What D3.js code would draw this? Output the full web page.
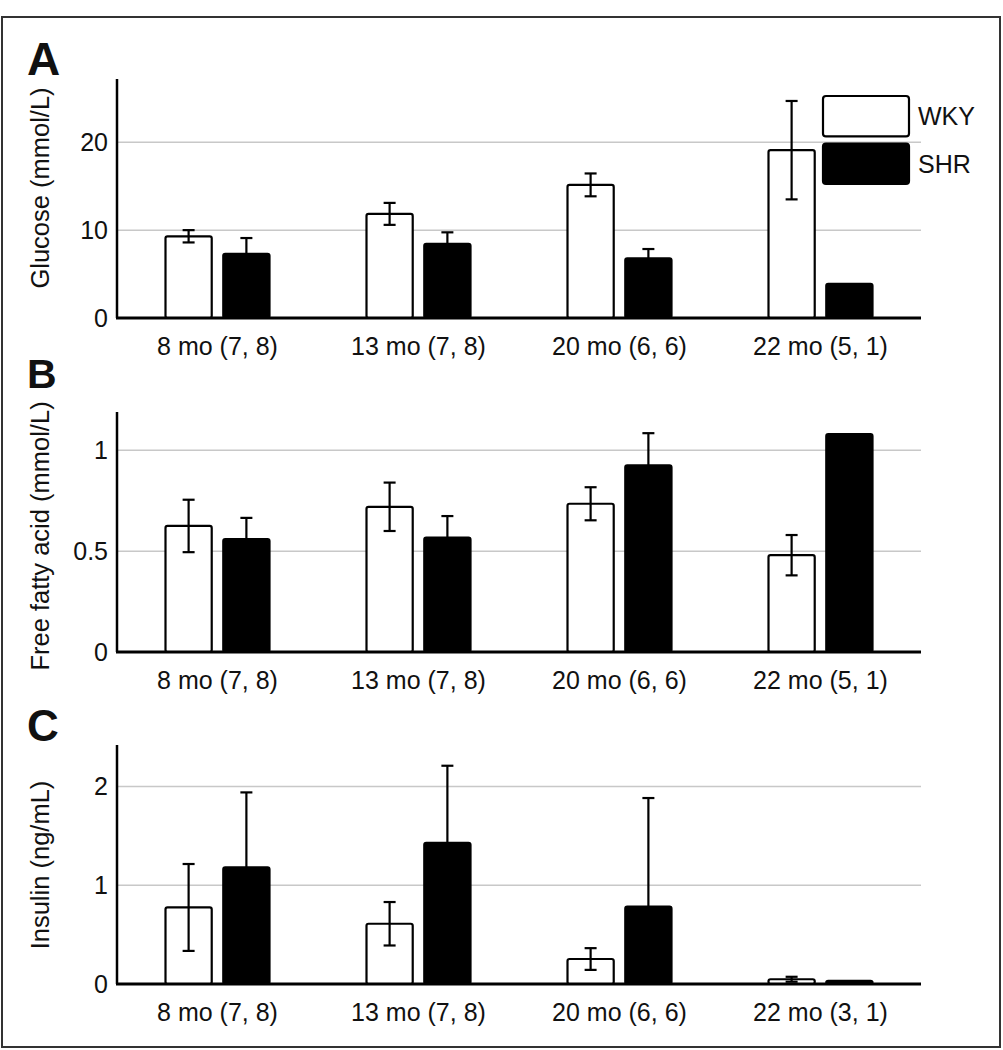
<!DOCTYPE html>
<html>
<head>
<meta charset="utf-8">
<script src="https://cdn.jsdelivr.net/npm/d3@7"></script>
<style>
  html, body { margin: 0; padding: 0; background: #fff; }
  svg text { font-family: "Liberation Sans", Arial, sans-serif; fill: #111; }
</style>
</head>
<body>
<svg id="chart" width="1003" height="1050"></svg>
<script>
// ---- Data ----
const series = ["WKY", "SHR"];
const categoriesAB = ["8 mo (7, 8)", "13 mo (7, 8)", "20 mo (6, 6)", "22 mo (5, 1)"];
const categoriesC  = ["8 mo (7, 8)", "13 mo (7, 8)", "20 mo (6, 6)", "22 mo (3, 1)"];

const glucoseWKY    = [9.3, 11.85, 15.15, 19.1];
const glucoseWKYErr = [0.7, 1.25, 1.3, 5.6];
const glucoseSHR    = [7.3, 8.45, 6.8, 3.9];
const glucoseSHRErr = [1.8, 1.3, 1.05, null];
const glucoseTicks  = [0, 10, 20];

const ffaWKY    = [0.625, 0.72, 0.735, 0.48];
const ffaWKYErr = [0.13, 0.12, 0.082, 0.1];
const ffaSHR    = [0.56, 0.567, 0.925, 1.08];
const ffaSHRErr = [0.105, 0.107, 0.16, null];
const ffaTicks  = [0, 0.5, 1];

const insulinWKY    = [0.775, 0.61, 0.253, 0.048];
const insulinWKYErr = [0.44, 0.22, 0.11, 0.025];
const insulinSHR    = [1.18, 1.43, 0.783, 0.033];
const insulinSHRErr = [0.76, 0.78, 1.10, null];
const insulinTicks  = [0, 1, 2];

const panels = [
  { letter: "A", letterSize: 46, letterY: 75, title: "Glucose (mmol/L)", titleY: 188,
    cats: categoriesAB, wky: glucoseWKY, wkyErr: glucoseWKYErr, shr: glucoseSHR, shrErr: glucoseSHRErr,
    ticks: glucoseTicks, max: 27.2, top: 79, bottom: 318, legend: true },
  { letter: "B", letterSize: 41, letterY: 388, title: "Free fatty acid (mmol/L)", titleY: 536,
    cats: categoriesAB, wky: ffaWKY, wkyErr: ffaWKYErr, shr: ffaSHR, shrErr: ffaSHRErr,
    ticks: ffaTicks, max: 1.19, top: 412, bottom: 652, legend: false },
  { letter: "C", letterSize: 44, letterY: 741, title: "Insulin (ng/mL)", titleY: 865,
    cats: categoriesC, wky: insulinWKY, wkyErr: insulinWKYErr, shr: insulinSHR, shrErr: insulinSHRErr,
    ticks: insulinTicks, max: 2.42, top: 745, bottom: 984, legend: false }
];

const svg = d3.select("#chart");
const colors = { WKY: "#ffffff", SHR: "#000000" };
const left = 117, right = 921;

// outer frame
svg.append("rect").attr("x", 2).attr("y", 17).attr("width", 998).attr("height", 1030)
  .attr("fill", "none").attr("stroke", "#333").attr("stroke-width", 2);

panels.forEach(p => {
  const g = svg.append("g");
  const x0 = d3.scaleBand().domain(p.cats).range([left, right]).paddingInner(0).paddingOuter(0);
  const x1 = d3.scaleBand().domain(series).range([48.5, 152.5]).paddingInner(0.2).paddingOuter(0);
  const y = d3.scaleLinear().domain([0, p.max]).range([p.bottom, p.top]);

  // gridlines
  g.append("g").selectAll("line").data(p.ticks.filter(t => t > 0)).join("line")
    .attr("x1", left).attr("x2", right)
    .attr("y1", d => y(d)).attr("y2", d => y(d))
    .attr("stroke", "#c8c8c8").attr("stroke-width", 1.5);

  // y axis tick labels
  const ax = g.append("g").attr("transform", `translate(${left},0)`)
    .call(d3.axisLeft(y).tickValues(p.ticks).tickSize(0).tickPadding(9).tickFormat(d3.format("~g")));
  ax.select(".domain").remove();
  ax.selectAll("text").attr("font-size", 25).attr("fill", "#111")
    .attr("font-family", "Liberation Sans, Arial, sans-serif");

  // data rows
  const rows = p.cats.map((c, i) => ({
    cat: c,
    vals: [
      { s: "WKY", v: p.wky[i], e: p.wkyErr[i] },
      { s: "SHR", v: p.shr[i], e: p.shrErr[i] }
    ]
  }));

  const grp = g.append("g").selectAll("g").data(rows).join("g")
    .attr("transform", d => `translate(${x0(d.cat)},0)`);

  grp.selectAll("rect").data(d => d.vals).join("rect")
    .attr("x", d => x1(d.s))
    .attr("width", x1.bandwidth())
    .attr("y", d => y(d.v))
    .attr("height", d => y(0) - y(d.v))
    .attr("rx", 2)
    .attr("fill", d => colors[d.s])
    .attr("stroke", "#000").attr("stroke-width", 2.2);

  // error bars
  const eb = grp.selectAll("g.err").data(d => d.vals.filter(v => v.e != null)).join("g").attr("class", "err");
  eb.append("line")
    .attr("x1", d => x1(d.s) + x1.bandwidth() / 2).attr("x2", d => x1(d.s) + x1.bandwidth() / 2)
    .attr("y1", d => y(d.s === "WKY" ? d.v - d.e : d.v)).attr("y2", d => y(d.v + d.e))
    .attr("stroke", "#000").attr("stroke-width", 2.2);
  eb.append("line")
    .attr("x1", d => x1(d.s) + x1.bandwidth() / 2 - 6).attr("x2", d => x1(d.s) + x1.bandwidth() / 2 + 6)
    .attr("y1", d => y(d.v + d.e)).attr("y2", d => y(d.v + d.e))
    .attr("stroke", "#000").attr("stroke-width", 2.2);
  eb.filter(d => d.s === "WKY").append("line")
    .attr("x1", d => x1(d.s) + x1.bandwidth() / 2 - 6).attr("x2", d => x1(d.s) + x1.bandwidth() / 2 + 6)
    .attr("y1", d => y(d.v - d.e)).attr("y2", d => y(d.v - d.e))
    .attr("stroke", "#000").attr("stroke-width", 2.2);

  // axis lines
  g.append("line").attr("x1", left).attr("x2", left).attr("y1", p.top).attr("y2", p.bottom)
    .attr("stroke", "#000").attr("stroke-width", 2.5);
  g.append("line").attr("x1", left - 1).attr("x2", right).attr("y1", p.bottom).attr("y2", p.bottom)
    .attr("stroke", "#000").attr("stroke-width", 2.8);

  // category labels
  g.append("g").selectAll("text").data(p.cats).join("text")
    .attr("x", d => x0(d) + x0.bandwidth() / 2)
    .attr("y", p.bottom + 37)
    .attr("text-anchor", "middle").attr("font-size", 25)
    .text(d => d);

  // y title
  g.append("text")
    .attr("transform", `translate(49,${p.titleY}) rotate(-90)`)
    .attr("text-anchor", "middle").attr("font-size", 25.5)
    .text(p.title);

  // panel letter
  g.append("text").attr("x", 27).attr("y", p.letterY)
    .attr("font-size", p.letterSize).attr("font-weight", "bold").attr("fill", "#000")
    .text(p.letter);

  if (p.legend) {
    const lg = svg.append("g");
    const items = series.map((s, i) => ({ s, i }));
    const ly = d3.scaleBand().domain(series).range([96, 184]).paddingInner(0.15);
    lg.selectAll("rect").data(items).join("rect")
      .attr("x", 823).attr("y", d => ly(d.s)).attr("width", 86).attr("height", ly.bandwidth())
      .attr("rx", 3)
      .attr("fill", d => colors[d.s]).attr("stroke", "#000").attr("stroke-width", 2.2);
    lg.selectAll("text").data(items).join("text")
      .attr("x", 918).attr("y", d => ly(d.s) + ly.bandwidth() / 2 + 9)
      .attr("font-size", 25).text(d => d.s);
  }
});
</script>
</body>
</html>
